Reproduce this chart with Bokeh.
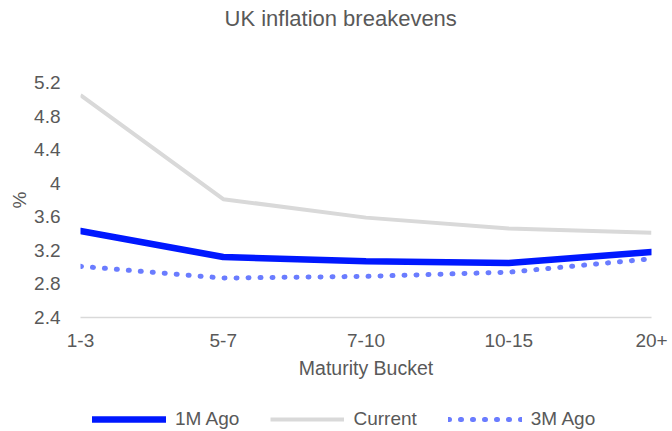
from bokeh.plotting import figure
from bokeh.layouts import column
from bokeh.models import Range1d, FixedTicker, Legend, LegendItem, Title
from bokeh.embed import file_html
from bokeh.resources import INLINE

# Maturity buckets and breakeven levels (%)
buckets = ["1-3", "5-7", "7-10", "10-15", "20+"]
one_month_ago = [3.43, 3.12, 3.07, 3.05, 3.18]
current = [5.05, 3.81, 3.59, 3.46, 3.41]
three_months_ago = [3.01, 2.87, 2.89, 2.94, 3.10]
y_ticks = [2.4, 2.8, 3.2, 3.6, 4.0, 4.4, 4.8, 5.2]
y_tick_labels = ["2.4", "2.8", "3.2", "3.6", "4", "4.4", "4.8", "5.2"]

FONT = "Liberation Sans"
TEXT = "#595959"
C_1M, C_CUR, C_3M = "#0018FF", "#D9D9D9", "#6A7CFF"

xs = list(range(len(buckets)))

p = figure(
    width=672, height=391,
    x_range=Range1d(0, len(buckets) - 1),
    y_range=Range1d(y_ticks[0], y_ticks[-1]),
    output_backend="svg", toolbar_location=None,
    min_border_left=80, min_border_right=21,
    min_border_top=80, min_border_bottom=74,
)
p.outline_line_color = None
p.xgrid.visible = False
p.ygrid.visible = False
p.title.standoff = 0

# Gap between chart title and plot area, then the chart title itself
p.add_layout(Title(text=" ", text_font=FONT, text_font_size="10px", standoff=36), "above")
p.add_layout(Title(text="UK inflation breakevens", align="left", offset=144,
                   text_font=FONT, text_font_size="22px", text_color=TEXT,
                   text_font_style="normal", standoff=6), "above")

# X axis
p.xaxis.ticker = FixedTicker(ticks=xs)
p.xaxis.major_label_overrides = {i: b for i, b in enumerate(buckets)}
p.xaxis.axis_line_color = "#D9D9D9"
p.xaxis.axis_line_width = 1.5
p.xaxis.major_tick_line_color = None
p.xaxis.minor_tick_line_color = None
p.xaxis.major_label_text_font = FONT
p.xaxis.major_label_text_font_size = "19px"
p.xaxis.major_label_text_color = TEXT
p.xaxis.major_label_standoff = 10
p.xaxis.axis_label = "Maturity Bucket"
p.xaxis.axis_label_text_font = FONT
p.xaxis.axis_label_text_font_size = "19.5px"
p.xaxis.axis_label_text_font_style = "normal"
p.xaxis.axis_label_text_color = TEXT
p.xaxis.axis_label_standoff = 7

# Y axis
p.yaxis.ticker = FixedTicker(ticks=y_ticks)
p.yaxis.major_label_overrides = {t: l for t, l in zip(y_ticks, y_tick_labels)}
p.yaxis.axis_line_color = None
p.yaxis.major_tick_line_color = None
p.yaxis.minor_tick_line_color = None
p.yaxis.major_label_text_font = FONT
p.yaxis.major_label_text_font_size = "19px"
p.yaxis.major_label_text_color = TEXT
p.yaxis.major_label_standoff = 14
p.yaxis.axis_label = "%"
p.yaxis.axis_label_text_font = FONT
p.yaxis.axis_label_text_font_size = "19px"
p.yaxis.axis_label_text_font_style = "normal"
p.yaxis.axis_label_text_color = TEXT
p.yaxis.axis_label_standoff = 1


def draw_series(fig):
    cur = fig.line(xs, current, line_color=C_CUR, line_width=4)
    m3 = fig.line(xs, three_months_ago, line_color=C_3M, line_width=5,
                  line_dash="1 11", line_cap="round")
    m1 = fig.line(xs, one_month_ago, line_color=C_1M, line_width=6.5,
                  line_cap="round")
    return m1, cur, m3


draw_series(p)

# Legend strip under the chart; its series sit outside the strip's visible range
leg = figure(
    width=672, height=40,
    x_range=Range1d(-20, -10), y_range=Range1d(0, 1),
    x_axis_type=None, y_axis_type=None,
    output_backend="svg", toolbar_location=None,
    min_border_left=0, min_border_right=0, min_border_top=0, min_border_bottom=0,
)
leg.outline_line_color = None
leg.title.standoff = 0
l_1m, l_cur, l_3m = draw_series(leg)

legend = Legend(
    items=[
        LegendItem(label="1M Ago", renderers=[l_1m]),
        LegendItem(label="Current", renderers=[l_cur]),
        LegendItem(label="3M Ago", renderers=[l_3m]),
    ],
    orientation="horizontal", location=(12, 1),
    glyph_width=74, glyph_height=16, spacing=31, label_standoff=9,
    label_text_font=FONT, label_text_font_size="19px", label_text_color=TEXT,
    border_line_color=None, background_fill_alpha=0, padding=2, margin=0,
)
leg.add_layout(legend, "center")

layout = column(p, leg, spacing=0)

open("out.html", "w").write(file_html(layout, INLINE))
